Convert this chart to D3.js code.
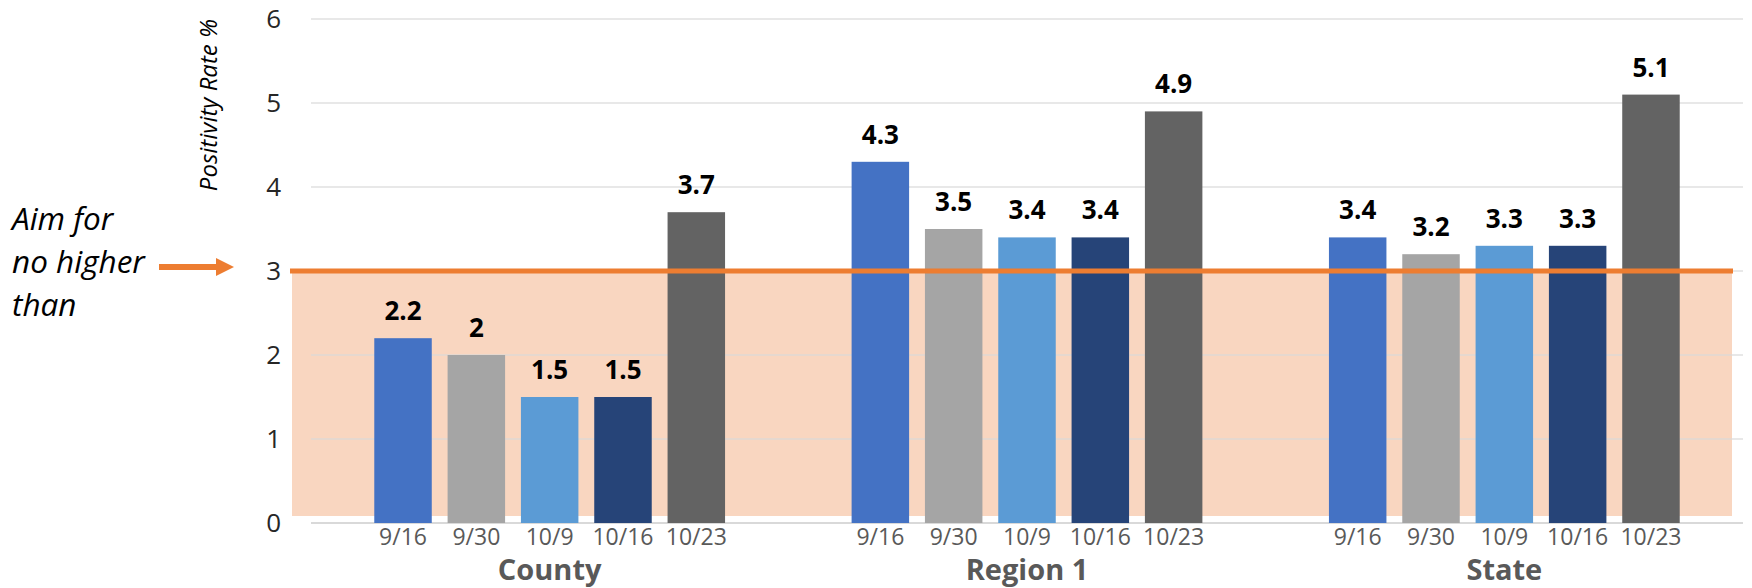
<!DOCTYPE html>
<html>
<head>
<meta charset="utf-8">
<script src="https://cdn.jsdelivr.net/npm/d3@7"></script>
<style>
  body { margin: 0; background: #fff; }
  text { font-family: "Open Sans", sans-serif; }
</style>
</head>
<body>
<div id="chart"></div>
<script>
// Data
const groups = ["County", "Region 1", "State"];
const dates = ["9/16", "9/30", "10/9", "10/16", "10/23"];
const countyValues = [2.2, 2, 1.5, 1.5, 3.7];
const regionValues = [4.3, 3.5, 3.4, 3.4, 4.9];
const stateValues = [3.4, 3.2, 3.3, 3.3, 5.1];
const yTicks = [0, 1, 2, 3, 4, 5, 6];
const targetRate = 3;
const dateColors = ["#4472C4", "#A5A5A5", "#5B9BD5", "#264478", "#636363"];

const seriesByGroup = [countyValues, regionValues, stateValues];

// Dimensions and margins
const margin = { top: 19, right: 9, bottom: 65, left: 311 };
const width = 1752 - margin.left - margin.right;
const height = 588 - margin.top - margin.bottom;

const svgRoot = d3.select("#chart")
    .append("svg")
    .attr("width", 1752)
    .attr("height", 588);

const svg = svgRoot.append("g")
    .attr("transform", `translate(${margin.left},${margin.top})`);

// Scales
const x0 = d3.scaleBand()
    .domain(groups)
    .range([0, width]);

const x1 = d3.scaleBand()
    .domain(dates)
    .range([0, x0.bandwidth()])
    .paddingInner(0.216)
    .paddingOuter(0.863);

const y = d3.scaleLinear()
    .domain([0, 6])
    .range([height, 0]);

// Target shaded zone (sits a little above the baseline, like the original)
svg.append("rect")
    .attr("x", -19)
    .attr("y", y(targetRate))
    .attr("width", width - 11 + 19)
    .attr("height", y(0) - y(targetRate) - 7)
    .attr("fill", "#F9D6C0");

// Gridlines
svg.append("g")
    .selectAll("line")
    .data(yTicks.filter(d => d > 0))
    .join("line")
    .attr("x1", 0)
    .attr("x2", width)
    .attr("y1", d => y(d))
    .attr("y2", d => y(d))
    .attr("stroke", "#D9D9D9")
    .attr("stroke-opacity", 0.8)
    .attr("stroke-width", 1.5);

// Baseline
svg.append("line")
    .attr("x1", 0)
    .attr("x2", width)
    .attr("y1", y(0))
    .attr("y2", y(0))
    .attr("stroke", "#D9D9D9")
    .attr("stroke-width", 2);

// Y tick labels
const yAxis = svg.append("g")
    .call(d3.axisLeft(y).tickValues(yTicks).tickFormat(d3.format("d")).tickSize(0).tickPadding(30));
yAxis.select(".domain").remove();
yAxis.selectAll("text")
    .attr("font-family", "Open Sans")
    .attr("font-size", 26)
    .attr("fill", "#262626");

// Y axis title
svg.append("text")
    .attr("transform", "rotate(-90)")
    .attr("x", -(y(6) + 86))
    .attr("y", -94)
    .attr("text-anchor", "middle")
    .attr("font-size", 24)
    .attr("font-style", "italic")
    .attr("fill", "#000")
    .text("Positivity Rate %");

// Bars
const groupSel = svg.selectAll(".group")
    .data(groups)
    .join("g")
    .attr("class", "group")
    .attr("transform", d => `translate(${x0(d)},0)`);

groupSel.each(function (g, gi) {
    const values = seriesByGroup[gi];
    const gEl = d3.select(this);
    const rows = dates.map((d, i) => ({ date: d, value: values[i], color: dateColors[i] }));

    gEl.selectAll("rect")
        .data(rows)
        .join("rect")
        .attr("x", d => x1(d.date))
        .attr("y", d => y(d.value))
        .attr("width", x1.bandwidth())
        .attr("height", d => y(0) - y(d.value))
        .attr("fill", d => d.color);

    // Value labels
    gEl.selectAll(".val")
        .data(rows)
        .join("text")
        .attr("class", "val")
        .attr("x", d => x1(d.date) + x1.bandwidth() / 2)
        .attr("y", d => y(d.value) - 18)
        .attr("text-anchor", "middle")
        .attr("font-size", 26)
        .attr("font-weight", "bold")
        .attr("fill", "#000")
        .text(d => d.value);

    // Date labels
    gEl.selectAll(".date")
        .data(rows)
        .join("text")
        .attr("class", "date")
        .attr("x", d => x1(d.date) + x1.bandwidth() / 2)
        .attr("y", y(0) + 22)
        .attr("text-anchor", "middle")
        .attr("font-size", 23)
        .attr("fill", "#595959")
        .text(d => d.date);

    // Group label
    gEl.append("text")
        .attr("x", x0.bandwidth() / 2)
        .attr("y", y(0) + 57)
        .attr("text-anchor", "middle")
        .attr("font-size", 29)
        .attr("font-weight", "bold")
        .attr("fill", "#595959")
        .text(g);
});

// Target line
svg.append("line")
    .attr("x1", -21)
    .attr("x2", width - 10)
    .attr("y1", y(targetRate))
    .attr("y2", y(targetRate))
    .attr("stroke", "#ED7D31")
    .attr("stroke-width", 5);

// Annotation text + arrow (in page coordinates)
const note = svgRoot.append("text")
    .attr("font-size", 31.5)
    .attr("font-style", "italic")
    .attr("fill", "#000");
["Aim for", "no higher", "than"].forEach((line, i) => {
    note.append("tspan")
        .attr("x", 12)
        .attr("y", 230 + i * 43)
        .text(line);
});

const arrowY = margin.top + y(targetRate) - 4;
svgRoot.append("line")
    .attr("x1", 159)
    .attr("x2", 218)
    .attr("y1", arrowY)
    .attr("y2", arrowY)
    .attr("stroke", "#ED7D31")
    .attr("stroke-width", 6);
svgRoot.append("path")
    .attr("d", `M216,${arrowY - 9} L234,${arrowY} L216,${arrowY + 9} Z`)
    .attr("fill", "#ED7D31");
</script>
</body>
</html>
